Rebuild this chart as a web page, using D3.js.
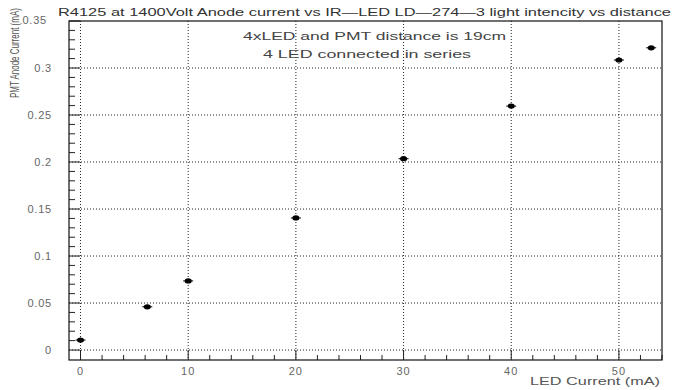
<!DOCTYPE html>
<html><head><meta charset="utf-8">
<script src="https://cdn.jsdelivr.net/npm/d3@7"></script>
<style>body{margin:0;background:#fff}svg{display:block}</style>
</head><body>
<script>
const ledCurrent = [0, 6.2, 10, 20, 30, 40, 50, 53];
const anodeCurrent = [0.0106, 0.046, 0.0735, 0.1405, 0.2035, 0.2595, 0.3085, 0.3215];
const xTicks = [0, 10, 20, 30, 40, 50];
const yTicks = [0, 0.05, 0.1, 0.15, 0.2, 0.25, 0.3, 0.35];
const yTickLabels = ["0", "0.05", "0.1", "0.15", "0.2", "0.25", "0.3", "0.35"];
const titleText = "R4125 at 1400Volt Anode current vs IR\u2014LED LD\u2014274\u20143 light intencity vs distance";
const noteLines = ["4xLED and PMT distance is 19cm", "4 LED connected in series"];

const W = 674, H = 390;
const L = 69, R = 662, T = 21, B = 360;
const svg = d3.select("body").append("svg").attr("width", W).attr("height", H);
const x = d3.scaleLinear().domain([-1.07, 54]).range([L, R]);
const y = d3.scaleLinear().domain([-0.0106, 0.35]).range([B, T]);
const font = "'Liberation Sans', Arial, sans-serif";

// gridlines
const g = svg.append("g");
g.selectAll("line.vg").data(xTicks).join("line")
  .attr("x1", d => x(d)).attr("x2", d => x(d)).attr("y1", T).attr("y2", B)
  .attr("stroke", "#222").attr("stroke-width", 1).attr("stroke-dasharray", "1,2");
g.selectAll("line.hg").data(yTicks.filter(v => v < 0.34)).join("line")
  .attr("x1", L).attr("x2", R).attr("y1", d => y(d)).attr("y2", d => y(d))
  .attr("stroke", "#222").attr("stroke-width", 1).attr("stroke-dasharray", "1,2");

// ticks
const yMinor = d3.range(0, 0.3501, 0.01);
svg.append("g").selectAll("line").data(yMinor).join("line")
  .attr("x1", L).attr("x2", (d, i) => L + (i % 5 === 0 ? 11 : 6))
  .attr("y1", d => y(d)).attr("y2", d => y(d)).attr("stroke", "#222").attr("stroke-width", 1);
const xMinor = d3.range(0, 54.01, 2);
svg.append("g").selectAll("line").data(xMinor).join("line")
  .attr("y1", B).attr("y2", (d, i) => B - (i % 5 === 0 ? 10 : 5))
  .attr("x1", d => x(d)).attr("x2", d => x(d)).attr("stroke", "#222").attr("stroke-width", 1);

// frame
svg.append("rect").attr("x", L).attr("y", T).attr("width", R - L).attr("height", B - T)
  .attr("fill", "none").attr("stroke", "#111").attr("stroke-width", 1.2);

// tick labels
svg.append("g").selectAll("text").data(yTicks).join("text")
  .attr("x", (d, i) => i === 7 ? 47 : 52).attr("y", (d, i) => i === 7 ? y(d) + 3 : y(d) + 4)
  .attr("text-anchor", "end").attr("font-family", font).attr("font-size", 11)
  .attr("fill", "#666").attr("letter-spacing", 0.8)
  .text((d, i) => yTickLabels[i]);
svg.append("g").selectAll("text").data(xTicks).join("text")
  .attr("x", d => x(d)).attr("y", 375).attr("text-anchor", "middle")
  .attr("font-family", font).attr("font-size", 11).attr("fill", "#666").attr("letter-spacing", 1)
  .text(d => d);

// titles
svg.append("text").attr("x", 58).attr("y", 16).attr("font-family", font).attr("font-size", 11.5)
  .attr("fill", "#333").attr("textLength", 613).attr("lengthAdjust", "spacingAndGlyphs").text(titleText);
svg.append("text").attr("x", 660).attr("y", 385).attr("text-anchor", "end").attr("font-family", font)
  .attr("font-size", 11).attr("fill", "#555").attr("textLength", 130).attr("lengthAdjust", "spacingAndGlyphs")
  .text("LED Current (mA)");
const yl = svg.append("text").attr("transform", "translate(19,98) rotate(-90)").attr("text-anchor", "start")
  .attr("font-family", font).attr("font-size", 13.5).attr("fill", "#555").text("PMT Anode Current (mA)");
const natW = yl.node().getComputedTextLength();
yl.attr("transform", `translate(19,98) rotate(-90) scale(${90 / natW},1)`);

// notes
svg.append("text").attr("x", 243).attr("y", 40).attr("font-family", font).attr("font-size", 11.5)
  .attr("fill", "#444").attr("textLength", 263).attr("lengthAdjust", "spacingAndGlyphs").text(noteLines[0]);
svg.append("text").attr("x", 263).attr("y", 58).attr("font-family", font).attr("font-size", 11.5)
  .attr("fill", "#444").attr("textLength", 208).attr("lengthAdjust", "spacingAndGlyphs").text(noteLines[1]);

// points
const pts = ledCurrent.map((v, i) => ({x: v, y: anodeCurrent[i]}));
const pg = svg.append("g");
pg.selectAll("line").data(pts).join("line")
  .attr("x1", d => x(d.x) - 5).attr("x2", d => x(d.x) + 5)
  .attr("y1", d => y(d.y)).attr("y2", d => y(d.y)).attr("stroke", "#000").attr("stroke-width", 1);
pg.selectAll("ellipse").data(pts).join("ellipse")
  .attr("cx", d => x(d.x)).attr("cy", d => y(d.y)).attr("rx", 3.5).attr("ry", 2.6).attr("fill", "#000");
</script>
</body></html>
